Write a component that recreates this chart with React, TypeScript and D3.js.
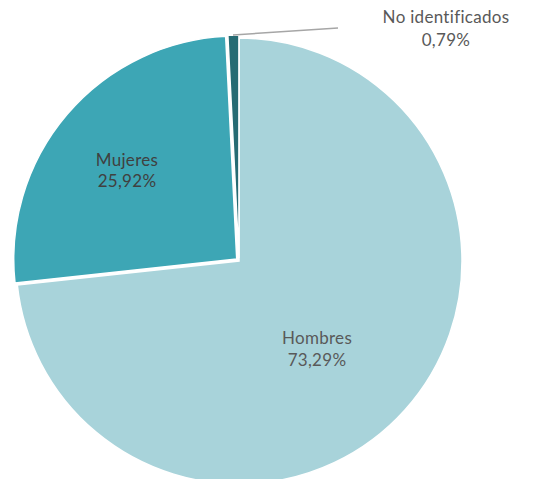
import React from "react";
import * as d3 from "d3";

const categories = ["Hombres", "Mujeres", "No identificados"];
const values = [73.29, 25.92, 0.79];
const labels = ["73,29%", "25,92%", "0,79%"];
const colors = ["#a8d3da", "#3da6b5", "#266b73"];
const offsets = [0, 3, 3];

export default function App() {
  const W = 534, H = 479;
  const cx = 239, cy = 261, r = 223;
  const pie = d3.pie<number>().sort(null).value((d) => d);
  const arcs = pie(values);
  const arc = d3.arc<d3.PieArcDatum<number>>().innerRadius(0).outerRadius(r);
  const font = "'Century Gothic', 'URW Gothic', Lato, 'Noto Sans', sans-serif";
  return (
    <svg width={W} height={H} style={{ position: "absolute", left: 0, top: 0 }}>
      <g transform={`translate(${cx},${cy})`}>
        {arcs.map((a, i) => {
          const mid = (a.startAngle + a.endAngle) / 2;
          const dx = Math.sin(mid) * offsets[i];
          const dy = -Math.cos(mid) * offsets[i];
          return (
            <path
              key={i}
              d={arc(a) || ""}
              transform={`translate(${dx},${dy})`}
              fill={colors[i]}
              stroke="#fff"
              strokeWidth={1.5}
            />
          );
        })}
        <polyline
          points={`${-6},${-226} ${99},${-233}`}
          fill="none"
          stroke="#a6a6a6"
          strokeWidth={1.5}
        />
      </g>
      <g fontFamily={font} fontSize={17} textAnchor="middle" letterSpacing={0.3}>
        <text x={317} y={344} fill="#595959">{categories[0]}</text>
        <text x={317} y={366} fill="#595959">{labels[0]}</text>
        <text x={127} y={166} fill="#404040">{categories[1]}</text>
        <text x={127} y={187} fill="#404040">{labels[1]}</text>
        <text x={446} y={23} fill="#595959">{categories[2]}</text>
        <text x={446} y={46} fill="#595959">{labels[2]}</text>
      </g>
    </svg>
  );
}
